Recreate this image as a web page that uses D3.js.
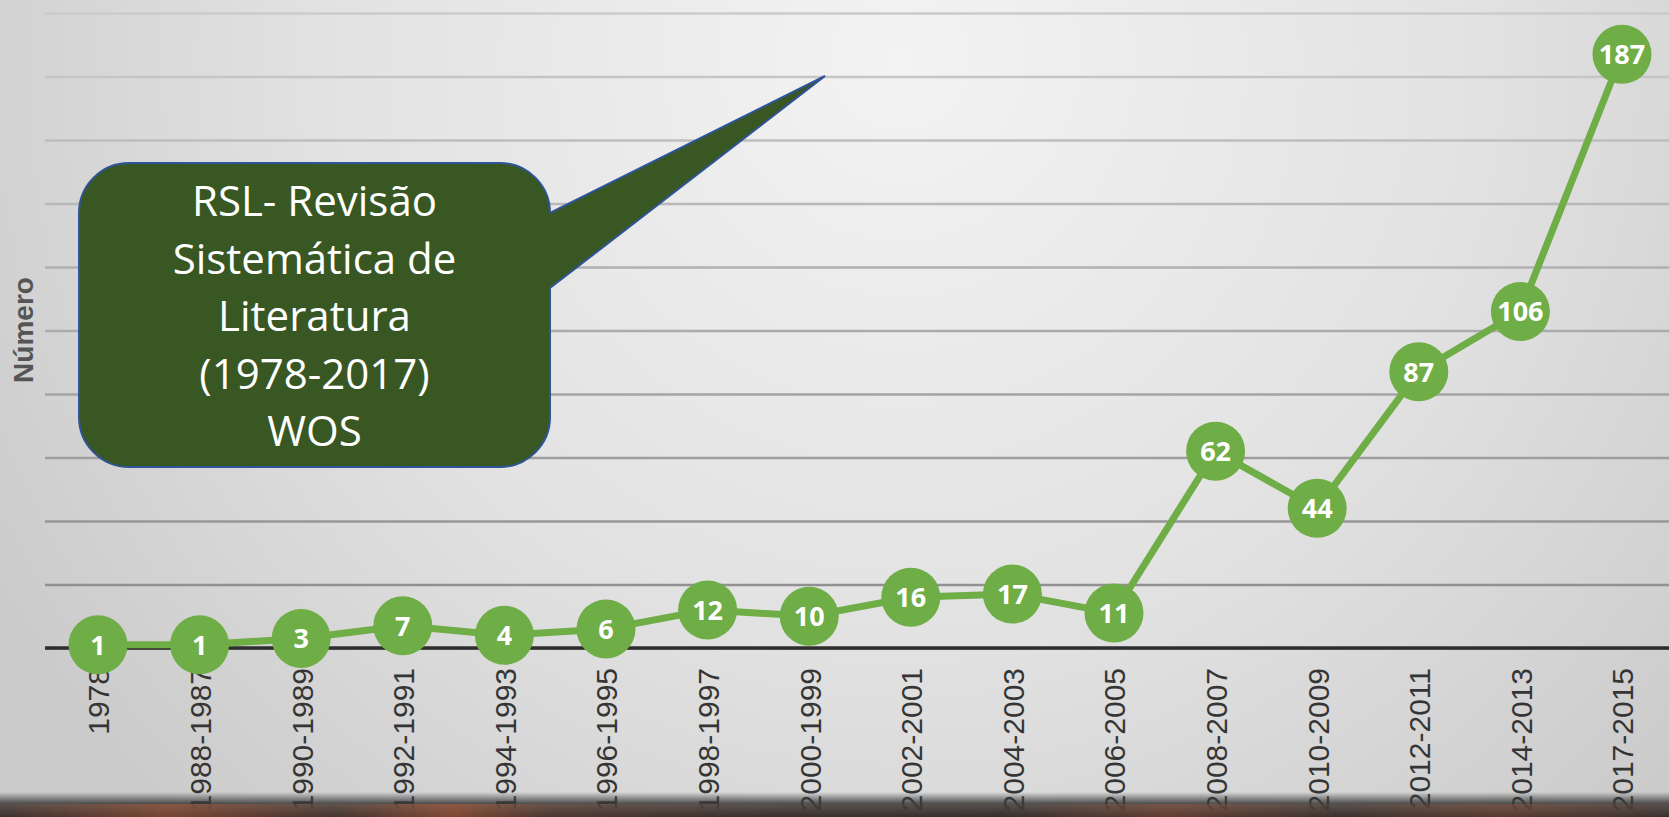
<!DOCTYPE html>
<html>
<head>
<meta charset="utf-8">
<script src="https://cdn.jsdelivr.net/npm/d3@7"></script>
<style>
  html, body { margin: 0; padding: 0; overflow: hidden; }
  svg { display: block; }
</style>
</head>
<body>
<script>
// data
var periods = ["1978", "1988-1987", "1990-1989", "1992-1991", "1994-1993", "1996-1995",
               "1998-1997", "2000-1999", "2002-2001", "2004-2003", "2006-2005",
               "2008-2007", "2010-2009", "2012-2011", "2014-2013", "2017-2015"];
var counts = [1, 1, 3, 7, 4, 6, 12, 10, 16, 17, 11, 62, 44, 87, 106, 187];
var gridTicks = [0, 20, 40, 60, 80, 100, 120, 140, 160, 180, 200];
var yTitle = "Número";
var calloutLines = ["RSL- Revisão", "Sistemática de", "Literatura", "(1978-2017)", "WOS"];

var width = 1669, height = 817;
var baseY = 648, topY = 13;

var svg = d3.select("body")
    .append("svg")
    .attr("width", width)
    .attr("height", height);

var defs = svg.append("defs");

// soft grey background, lighter toward the top middle
var bg = defs.append("radialGradient")
    .attr("id", "bg")
    .attr("gradientUnits", "userSpaceOnUse")
    .attr("cx", 900).attr("cy", 60).attr("r", 1050);
bg.append("stop").attr("offset", "0%").attr("stop-color", "#f3f3f3");
bg.append("stop").attr("offset", "55%").attr("stop-color", "#e2e2e2");
bg.append("stop").attr("offset", "100%").attr("stop-color", "#cbcbcb");

svg.append("rect")
    .attr("width", width)
    .attr("height", height)
    .attr("fill", "url(#bg)");

// scales
var xScale = d3.scalePoint()
    .domain(periods)
    .range([98, 1622]);

var yScale = d3.scaleLinear()
    .domain([0, 200])
    .range([baseY, topY]);

var gridColor = d3.scaleLinear()
    .domain([0, 200])
    .range(["#8a8a8a", "#cbcbcb"]);

// horizontal gridlines
var yAxis = d3.axisLeft(yScale)
    .tickValues(gridTicks)
    .tickSize(-(width - 45))
    .tickFormat("");

var gridG = svg.append("g")
    .attr("transform", "translate(45,0)")
    .call(yAxis);
gridG.select(".domain").remove();
gridG.selectAll(".tick line")
    .attr("stroke", function(d) { return gridColor(d); })
    .attr("stroke-width", 2.5);

// base line
svg.append("line")
    .attr("x1", 45).attr("x2", width)
    .attr("y1", yScale(0)).attr("y2", yScale(0))
    .attr("stroke", "#2e2e2e")
    .attr("stroke-width", 3.5);

// x axis labels
var xAxis = d3.axisBottom(xScale).tickSize(0);
var xG = svg.append("g")
    .attr("transform", "translate(0," + baseY + ")")
    .call(xAxis);
xG.select(".domain").remove();
xG.selectAll(".tick text")
    .attr("transform", "rotate(-90)")
    .attr("x", -20)
    .attr("y", 0)
    .attr("dy", "0.36em")
    .attr("text-anchor", "end")
    .attr("fill", "#353535")
    .style("font-family", "'Liberation Sans', Arial, sans-serif")
    .style("font-size", "30px");

// y axis title
svg.append("text")
    .attr("transform", "translate(33,330) rotate(-90)")
    .attr("text-anchor", "middle")
    .attr("fill", "#555555")
    .style("font-family", "'Liberation Sans', Arial, sans-serif")
    .style("font-weight", "bold")
    .style("font-size", "28px")
    .text(yTitle);

// line
var line = d3.line()
    .x(function(d, i) { return xScale(periods[i]); })
    .y(function(d) { return yScale(d); });

svg.append("path")
    .datum(counts)
    .attr("fill", "none")
    .attr("stroke", "#6fad46")
    .attr("stroke-width", 7)
    .attr("d", line);

// markers with labels
var pts = svg.selectAll(".pt")
    .data(counts)
    .enter()
    .append("g")
    .attr("class", "pt")
    .attr("transform", function(d, i) {
        return "translate(" + xScale(periods[i]) + "," + yScale(d) + ")"; });

pts.append("circle")
    .attr("r", 29.5)
    .attr("fill", "#6fad46");

pts.append("text")
    .attr("text-anchor", "middle")
    .attr("dy", "0.37em")
    .attr("fill", "#ffffff")
    .style("font-family", "'Open Sans', sans-serif")
    .style("font-weight", "bold")
    .style("font-size", "27px")
    .text(function(d) { return d; });

// callout box with pointer
var bx = 79, by = 163, bw = 471, bh = 304, r = 50;
var tipX = 825, tipY = 76;
var calloutPath = "M" + (bx + r) + "," + by +
    " H" + (bx + bw - r) +
    " A" + r + "," + r + " 0 0 1 " + (bx + bw) + "," + (by + r) +
    " L" + tipX + "," + tipY +
    " L" + (bx + bw) + "," + 288 +
    " V" + (by + bh - r) +
    " A" + r + "," + r + " 0 0 1 " + (bx + bw - r) + "," + (by + bh) +
    " H" + (bx + r) +
    " A" + r + "," + r + " 0 0 1 " + bx + "," + (by + bh - r) +
    " V" + (by + r) +
    " A" + r + "," + r + " 0 0 1 " + (bx + r) + "," + by + " Z";

svg.append("path")
    .attr("d", calloutPath)
    .attr("fill", "#385723")
    .attr("stroke", "#2f5597")
    .attr("stroke-width", 2);

svg.append("g")
    .selectAll("text")
    .data(calloutLines)
    .enter()
    .append("text")
    .attr("x", bx + bw / 2)
    .attr("y", function(d, i) { return 216 + i * 57.5; })
    .attr("text-anchor", "middle")
    .attr("fill", "#ffffff")
    .style("font-family", "'Open Sans', sans-serif")
    .style("font-size", "42px")
    .text(function(d) { return d; });

// dark blurred strip at the very bottom of the frame
var strip = defs.append("linearGradient")
    .attr("id", "strip").attr("x1", 0).attr("y1", 0).attr("x2", 0).attr("y2", 1);
strip.append("stop").attr("offset", "0%").attr("stop-color", "#3a3a3a").attr("stop-opacity", 0);
strip.append("stop").attr("offset", "45%").attr("stop-color", "#3a3a3a").attr("stop-opacity", 0.85);
strip.append("stop").attr("offset", "100%").attr("stop-color", "#2b2b2b").attr("stop-opacity", 1);

var warm = defs.append("linearGradient")
    .attr("id", "warm").attr("x1", 0).attr("y1", 0).attr("x2", 1).attr("y2", 0);
[[0, 0.1], [0.1, 0.5], [0.2, 0.15], [0.27, 0.55], [0.33, 0.2], [0.45, 0.1],
 [0.6, 0.05], [0.7, 0.35], [0.8, 0.1], [0.9, 0.3], [1, 0.1]].forEach(function(s) {
    warm.append("stop").attr("offset", s[0])
        .attr("stop-color", "#c0603a").attr("stop-opacity", s[1]);
});

svg.append("rect")
    .attr("x", 0).attr("y", 792)
    .attr("width", width).attr("height", 25)
    .attr("fill", "url(#strip)");
svg.append("rect")
    .attr("x", 0).attr("y", 804)
    .attr("width", width).attr("height", 13)
    .attr("fill", "url(#warm)");
</script>
</body>
</html>
